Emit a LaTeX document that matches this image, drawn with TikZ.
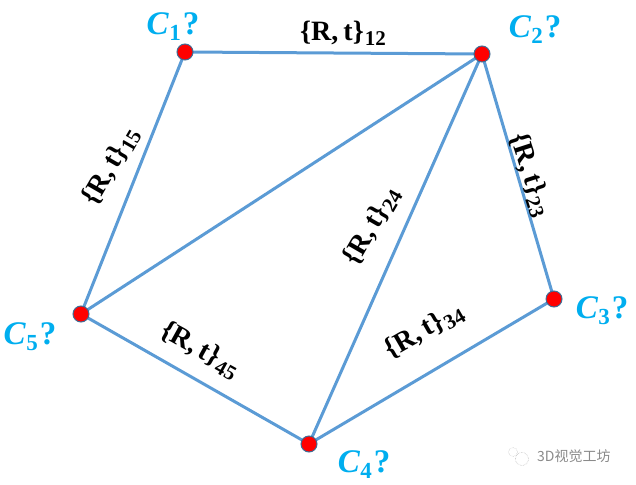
\documentclass[tikz,border=0pt]{standalone}
\usepackage{fontspec}
\setmainfont{Liberation Serif}
\newfontfamily\cjk{Noto Sans CJK SC}
\definecolor{edgeblue}{HTML}{5B9BD5}
\definecolor{camblue}{HTML}{00AEEF}
\definecolor{wmgray}{HTML}{8A8A8A}
\newcommand{\rtlabel}[1]{\textbf{\{R,\kern5pt t\}}\kern1pt\raisebox{-5pt}{\bfseries\fontsize{21}{21}\selectfont #1}}
\newcommand{\camlabel}[1]{{\bfseries\itshape C}\kern0.5pt\raisebox{-6pt}{\bfseries\fontsize{23}{23}\selectfont #1}\kern2pt{\bfseries ?}}
\tikzset{
  pt/.style={circle,fill=red,draw=edgeblue!70!black,line width=1pt,inner sep=0pt,minimum size=16pt},
  edgeline/.style={draw=edgeblue,line width=3pt},
  rtlab/.style={font=\fontsize{28}{28}\selectfont,text=black,inner sep=0pt},
  camlab/.style={font=\fontsize{33}{33}\selectfont,text=camblue,inner sep=0pt}
}
\begin{document}
\begin{tikzpicture}[x=1pt,y=-1pt]
\useasboundingbox (0,0) rectangle (636,484);
\coordinate (c1) at (185,52);
\coordinate (c2) at (482,54);
\coordinate (c3) at (554,299);
\coordinate (c4) at (309,444);
\coordinate (c5) at (81,314);
\draw[edgeline] (c1)--(c2);
\draw[edgeline] (c2)--(c3);
\draw[edgeline] (c3)--(c4);
\draw[edgeline] (c4)--(c5);
\draw[edgeline] (c5)--(c1);
\draw[edgeline] (c5)--(c2);
\draw[edgeline] (c4)--(c2);
\node[pt] (n1) at (c1) {};
\node[pt] (n2) at (c2) {};
\node[pt] (n3) at (c3) {};
\node[pt] (n4) at (c4) {};
\node[pt] (n5) at (c5) {};
\node[camlab] (l1) at (173,27) {\camlabel{1}};
\node[camlab] (l2) at (535,30) {\camlabel{2}};
\node[camlab] (l3) at (602,311) {\camlabel{3}};
\node[camlab] (l4) at (364,465) {\camlabel{4}};
\node[camlab] (l5) at (30,337) {\camlabel{5}};
\node[rtlab] (r12) at (343,33) {\rtlabel{12}};
\node[rtlab,rotate=-72] (r23) at (530,175) {\rtlabel{23}};
\node[rtlab,rotate=60] (r15) at (111,166) {\rtlabel{15}};
\node[rtlab,rotate=60] (r24) at (372,226) {\rtlabel{24}};
\node[rtlab,rotate=30] (r34) at (424,331) {\rtlabel{34}};
\node[rtlab,rotate=-29] (r45) at (200,350) {\rtlabel{45}};
\node[font=\cjk\fontsize{14}{14}\selectfont,text=wmgray,inner sep=0pt,anchor=west] (wm) at (537,456) {3D视觉工坊};
\draw[wmgray!70,line width=0.5pt,densely dotted] (522,459) circle (6.5pt);
\draw[wmgray!60,line width=0.5pt,densely dotted] (513,452) circle (4.5pt);
\end{tikzpicture}
\end{document}
